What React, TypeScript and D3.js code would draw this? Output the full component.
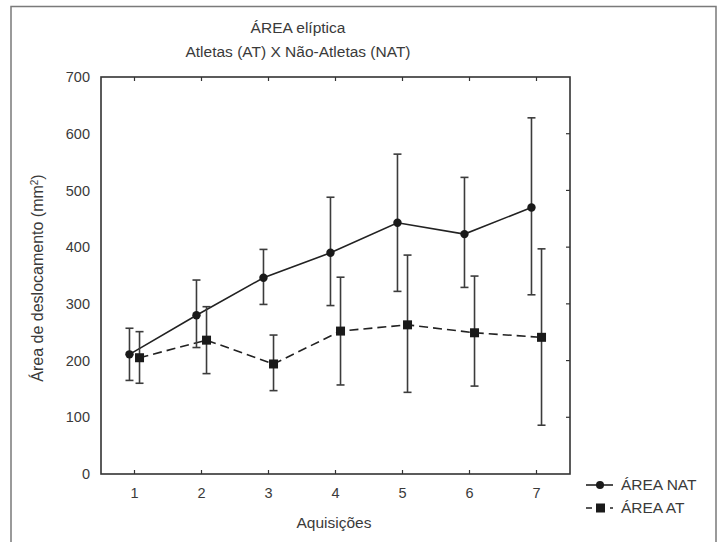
import React from 'react';
import * as d3 from 'd3';

const acquisitions = [1, 2, 3, 4, 5, 6, 7];
const natMean = [211, 280, 346, 390, 443, 423, 470];
const natLow = [165, 223, 299, 297, 322, 329, 316];
const natHigh = [257, 342, 396, 488, 564, 523, 628];
const atMean = [205, 236, 194, 252, 263, 249, 241];
const atLow = [160, 177, 147, 157, 144, 155, 86];
const atHigh = [251, 295, 245, 347, 386, 349, 397];
const yTicks = [0, 100, 200, 300, 400, 500, 600, 700];

const W = 720;
const H = 542;
const FONT = "'Liberation Sans', Arial, sans-serif";
const TXT = '#3a3a3a';
const LBL = 15.5;

const App = () => {
  const x = d3.scaleLinear().domain([0.5, 7.5]).range([101, 570]);
  const y = d3.scaleLinear().domain([0, 700]).range([474, 77]);
  const off = 0.075;

  const lineNat = d3.line<number>()
    .x((d, i) => x(acquisitions[i] - off))
    .y((d) => y(d));
  const lineAt = d3.line<number>()
    .x((d, i) => x(acquisitions[i] + off))
    .y((d) => y(d));

  const errBar = (cx: number, lo: number, hi: number, key: string) => (
    <g key={key} stroke="#3c3c3c" strokeWidth={1.6}>
      <line x1={cx} x2={cx} y1={y(lo)} y2={y(hi)} />
      <line x1={cx - 4} x2={cx + 4} y1={y(lo)} y2={y(lo)} />
      <line x1={cx - 4} x2={cx + 4} y1={y(hi)} y2={y(hi)} />
    </g>
  );

  return (
    <svg width={W} height={H} style={{ position: 'absolute', left: 0, top: 0, background: '#fff' }}
      fontFamily={FONT}>
      {/* outer frame (no bottom edge) */}
      <path d={`M11,${H} L11,6.5 L716,6.5 L716,${H}`} fill="none" stroke="#7a7a7a" strokeWidth={1.5} />

      <text x={298} y={33} textAnchor="middle" fontSize={LBL} fill={TXT}>ÁREA elíptica</text>
      <text x={298} y={57} textAnchor="middle" fontSize={LBL} fill={TXT}>Atletas (AT) X Não-Atletas (NAT)</text>

      {/* plot box */}
      <rect x={101} y={77} width={469} height={397} fill="none" stroke="#333" strokeWidth={1.6} />

      {yTicks.map((t) => (
        <g key={'y' + t}>
          <text x={90} y={y(t)} dy="0.35em" textAnchor="end" fontSize={14.5} fill={TXT}>{t}</text>
          {t > 0 && t < 700 && (
            <line x1={570} x2={566} y1={y(t)} y2={y(t)} stroke="#333" strokeWidth={1.2} />
          )}
        </g>
      ))}
      {acquisitions.map((a) => (
        <g key={'x' + a}>
          <line x1={x(a)} x2={x(a)} y1={474} y2={470} stroke="#333" strokeWidth={1.2} />
          <line x1={x(a)} x2={x(a)} y1={77} y2={81} stroke="#333" strokeWidth={1.2} />
          <text x={x(a)} y={493} dy="0.35em" textAnchor="middle" fontSize={14.5} fill={TXT}>{a}</text>
        </g>
      ))}

      <text x={334} y={523} dy="0.35em" textAnchor="middle" fontSize={LBL} fill={TXT}>Aquisições</text>
      <text transform="translate(37,278) rotate(-90)" textAnchor="middle" dy="0.35em" fontSize={16} fill={TXT}>
        Área de deslocamento (mm<tspan dy="-5" fontSize={10}>2</tspan><tspan dy="5">)</tspan>
      </text>

      {/* series lines */}
      <path d={lineNat(natMean) || ''} fill="none" stroke="#222" strokeWidth={1.6} />
      <path d={lineAt(atMean) || ''} fill="none" stroke="#222" strokeWidth={1.6} strokeDasharray="9,5" />

      {acquisitions.map((a, i) => errBar(x(a - off), natLow[i], natHigh[i], 'en' + i))}
      {acquisitions.map((a, i) => errBar(x(a + off), atLow[i], atHigh[i], 'ea' + i))}

      {natMean.map((v, i) => (
        <circle key={'cn' + i} cx={x(acquisitions[i] - off)} cy={y(v)} r={4.2} fill="#1a1a1a" />
      ))}
      {atMean.map((v, i) => (
        <rect key={'ra' + i} x={x(acquisitions[i] + off) - 4.5} y={y(v) - 4.5} width={9} height={9} fill="#1a1a1a" />
      ))}

      {/* legend */}
      <g>
        <line x1={586} x2={613} y1={485} y2={485} stroke="#222" strokeWidth={1.6} />
        <circle cx={600} cy={485} r={4} fill="#1a1a1a" />
        <text x={621} y={485} dy="0.35em" fontSize={LBL} fill={TXT}>ÁREA NAT</text>
        <line x1={586} x2={613} y1={508} y2={508} stroke="#222" strokeWidth={1.6} strokeDasharray="6,18,6" />
        <rect x={596} y={503.5} width={9} height={9} fill="#1a1a1a" />
        <text x={621} y={508} dy="0.35em" fontSize={LBL} fill={TXT}>ÁREA AT</text>
      </g>
    </svg>
  );
};

export default App;
